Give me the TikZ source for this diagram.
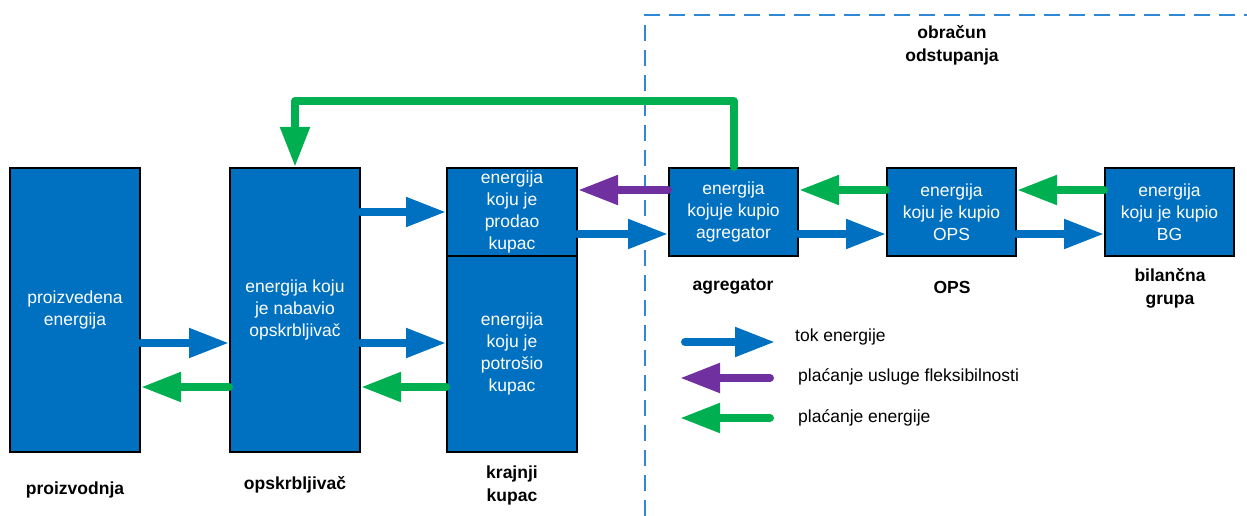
\documentclass[tikz,border=0pt]{standalone}
\usepackage{fontspec}
\setmainfont{Liberation Sans}
\usetikzlibrary{arrows.meta,calc}
\definecolor{boxblue}{RGB}{0,112,192}
\definecolor{arrblue}{RGB}{0,112,192}
\definecolor{pgreen}{RGB}{0,176,80}
\definecolor{ppurple}{RGB}{112,48,160}
\definecolor{dashblue}{RGB}{46,136,214}
\begin{document}
\begin{tikzpicture}[x=1pt,y=-1pt,
  box/.style={draw=black,line width=2pt,fill=boxblue,text=white,inner sep=0pt,align=center,
    font=\fontsize{17.5}{22}\selectfont},
  lbl/.style={align=center,inner sep=0pt,font=\fontsize{17.5}{23}\selectfont\bfseries},
  legtext/.style={anchor=west,inner sep=0pt,font=\fontsize{17.5}{22}\selectfont},
  flow/.style={line width=8pt,line cap=round,line join=round,-{Triangle[length=40pt,width=28pt]}},
  eflow/.style={flow,draw=arrblue},
  gflow/.style={flow,draw=pgreen},
  pflow/.style={flow,draw=ppurple},
  zone/.style={draw=dashblue,line width=2pt,dash pattern=on 16pt off 9pt}]
\useasboundingbox (0,0) rectangle (1247,516);

% dashed zone
\coordinate (zb) at (645,516);
\coordinate (zt) at (645,15);
\coordinate (zr) at (1260,15);
\draw[zone] (zb) -- (zt) -- (zr);

% boxes
\node[box,minimum width=130pt,minimum height=284pt] (prz) at (75,310) {proizvedena\\energija};
\node[box,minimum width=130pt,minimum height=284pt] (opk) at (295,310) {energija koju\\je nabavio\\opskrbljivač};
\node[box,minimum width=130pt,minimum height=88pt] (kkt) at (512,212) {energija\\koju je\\prodao\\kupac};
\node[box,minimum width=130pt,minimum height=196pt] (kkb) at (512,354) {energija\\koju je\\potrošio\\kupac};
\node[box,minimum width=129pt,minimum height=88pt] (agr) at (733.5,212) {energija\\kojuje kupio\\agregator};
\node[box,minimum width=129pt,minimum height=88pt] (ops) at (951.5,212) {energija\\koju je kupio\\OPS};
\node[box,minimum width=129pt,minimum height=88pt] (bg) at (1169.5,212) {energija\\koju je kupio\\BG};

% labels
\node[lbl] (lprz) at (75,490) {proizvodnja};
\node[lbl] (lopk) at (295,485) {opskrbljivač};
\node[lbl] (lkk) at (512,485) {krajnji\\kupac};
\node[lbl] (lagr) at (733,287) {agregator};
\node[lbl] (lops) at (952,287) {OPS};
\node[lbl] (lbg) at (1170,288) {bilančna\\grupa};
\node[lbl] (lzone) at (952,45) {obračun\\odstupanja};

% flows left
\draw[eflow] ($(prz.east)+(0,33)$) -- ($(opk.west)+(0,33)$);
\draw[gflow] ($(opk.west)+(0,77)$) -- ($(prz.east)+(0,77)$);
\draw[eflow] (opk.east |- kkt.west) -- (kkt.west);
\draw[eflow] ($(opk.east)+(0,33)$) -- ($(kkb.west)+(0,-11)$);
\draw[gflow] ($(kkb.west)+(0,33)$) -- ($(opk.east)+(0,77)$);

% flows right
\draw[pflow] ($(agr.west)+(0,-22)$) -- ($(kkt.east)+(0,-22)$);
\draw[eflow] ($(kkt.east)+(0,22)$) -- ($(agr.west)+(0,22)$);
\draw[gflow] ($(ops.west)+(0,-22)$) -- ($(agr.east)+(0,-22)$);
\draw[eflow] ($(agr.east)+(0,22)$) -- ($(ops.west)+(0,22)$);
\draw[gflow] ($(bg.west)+(0,-22)$) -- ($(ops.east)+(0,-22)$);
\draw[eflow] ($(ops.east)+(0,22)$) -- ($(bg.west)+(0,22)$);

% top green return
\draw[gflow] (agr.north) -- ++(0,-66) -| (opk.north);

% legend
\coordinate (l1a) at (685,342);
\coordinate (l1b) at (775,342);
\coordinate (l2a) at (770,378);
\coordinate (l2b) at (680,378);
\coordinate (l3a) at (770,418);
\coordinate (l3b) at (680,418);
\draw[eflow] (l1a) -- (l1b);
\draw[pflow] (l2a) -- (l2b);
\draw[gflow] (l3a) -- (l3b);
\node[legtext] (t1) at (795,337) {tok energije};
\node[legtext] (t2) at (798,377) {plaćanje usluge fleksibilnosti};
\node[legtext] (t3) at (798,418) {plaćanje energije};
\end{tikzpicture}
\end{document}
